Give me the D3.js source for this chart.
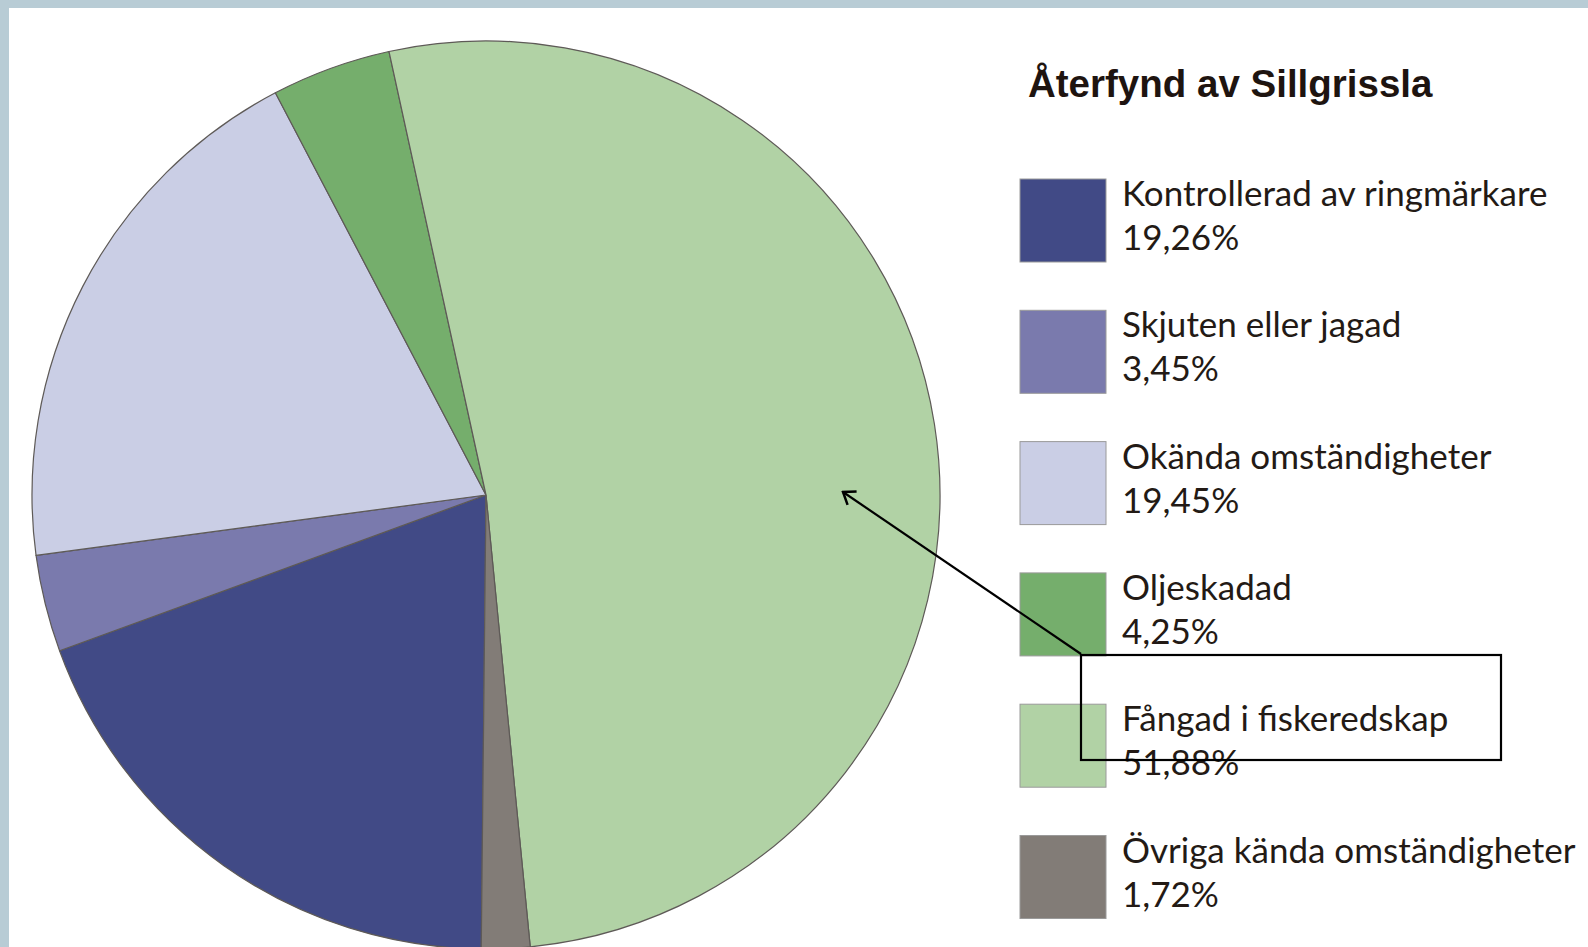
<!DOCTYPE html>
<html>
<head>
<meta charset="utf-8">
<script src="https://cdn.jsdelivr.net/npm/d3@7"></script>
<style>
body { margin: 0; background: #fff; }
svg { display: block; }
</style>
</head>
<body>
<svg id="chart" width="1588" height="947"></svg>
<script>
var categories = ["Kontrollerad av ringmärkare", "Skjuten eller jagad", "Okända omständigheter", "Oljeskadad", "Fångad i fiskeredskap", "Övriga kända omständigheter"];
var values = [19.26, 3.45, 19.45, 4.25, 51.88, 1.72];
var valueLabels = ["19,26%", "3,45%", "19,45%", "4,25%", "51,88%", "1,72%"];
var colors = ["#414a86", "#7a7aad", "#cacee5", "#75ae6c", "#b1d2a5", "#827c77"];
var title = "Återfynd av Sillgrissla";

var width = 1588, height = 947;
var svg = d3.select("#chart");

// frame on top and left
svg.append("rect").attr("x", 0).attr("y", 0).attr("width", width).attr("height", 8).style("fill", "#b8ccd5");
svg.append("rect").attr("x", 0).attr("y", 0).attr("width", 9).attr("height", height).style("fill", "#b8ccd5");

var cx = 486, cy = 495, radius = 454;
var start = 180.6 * Math.PI / 180;

// slices start at the bottom and go round through the left side, in legend order
var pie = d3.pie()
	.sort(null)
	.startAngle(start)
	.endAngle(start + 2 * Math.PI)
	.value(function (d) { return d; });

var arc = d3.arc()
	.innerRadius(0)
	.outerRadius(radius);

var pieg = svg.append("g").attr("transform", "translate(" + cx + "," + cy + ")");
pieg.selectAll(".slice")
	.data(pie(values))
	.enter().append("path")
	.attr("class", "slice")
	.attr("d", arc)
	.style("fill", function (d, i) { return colors[i]; })
	.style("stroke", "#5e5a57")
	.style("stroke-width", 1.2)
	.style("stroke-linejoin", "round");

// title
svg.append("text")
	.attr("x", 1028)
	.attr("y", 97)
	.text(title)
	.style("font-family", "'Liberation Sans', Arial, sans-serif")
	.style("font-weight", "bold")
	.style("font-size", "38.5px")
	.style("fill", "#1e1410");

// legend
var legendTop = 179, legendStep = 131.3;
var legend = svg.selectAll(".legend")
	.data(categories)
	.enter().append("g")
	.attr("class", "legend")
	.attr("transform", function (d, i) { return "translate(1020," + (legendTop + i * legendStep) + ")"; });

legend.append("rect")
	.attr("width", 86)
	.attr("height", 83)
	.style("fill", function (d, i) { return colors[i]; })
	.style("stroke", "#9a9a9a")
	.style("stroke-width", 1);

legend.append("text")
	.attr("x", 102)
	.attr("y", 27)
	.text(function (d) { return d; })
	.attr("class", "lname");

legend.append("text")
	.attr("x", 102)
	.attr("y", 71)
	.text(function (d, i) { return valueLabels[i]; })
	.attr("class", "lval");

svg.selectAll(".lname, .lval")
	.style("font-family", "Lato, 'Open Sans', sans-serif")
	.style("font-size", "35px")
	.style("fill", "#231a15");

// arrow from the highlight box into the largest slice
svg.append("defs").append("marker")
	.attr("id", "head")
	.attr("viewBox", "-12 -10 14 20")
	.attr("refX", 0)
	.attr("refY", 0)
	.attr("markerWidth", 14)
	.attr("markerHeight", 20)
	.attr("markerUnits", "userSpaceOnUse")
	.attr("orient", "auto")
	.append("path")
	.attr("d", "M-11,-8L0,0L-11,8")
	.style("fill", "none")
	.style("stroke", "#000")
	.style("stroke-width", 2.5);

svg.append("line")
	.attr("x1", 1081)
	.attr("y1", 654)
	.attr("x2", 843)
	.attr("y2", 492)
	.style("stroke", "#000")
	.style("stroke-width", 2.2)
	.attr("marker-end", "url(#head)");

svg.append("rect")
	.attr("x", 1081)
	.attr("y", 655)
	.attr("width", 420)
	.attr("height", 105)
	.style("fill", "none")
	.style("stroke", "#000")
	.style("stroke-width", 2.2);
</script>
</body>
</html>
